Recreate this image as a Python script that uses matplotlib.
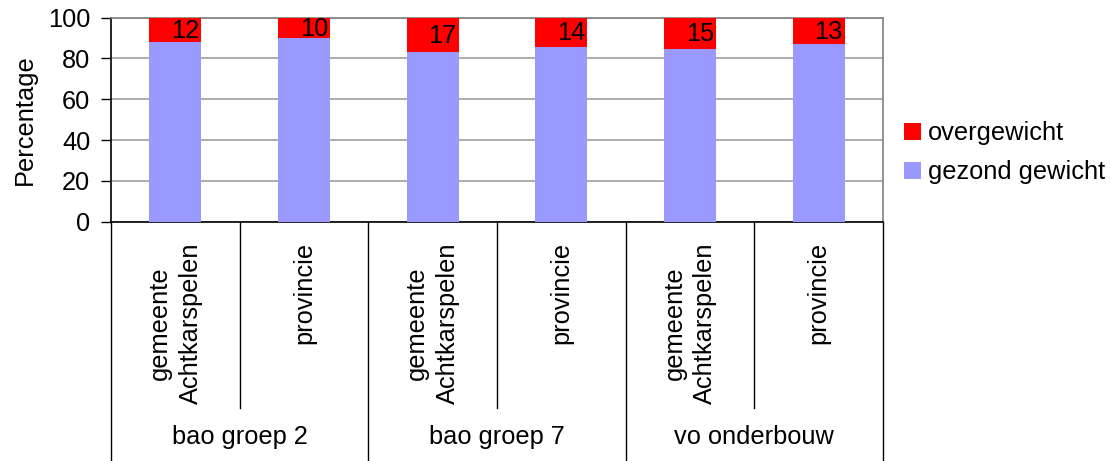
import matplotlib
matplotlib.use("Agg")
import matplotlib.pyplot as plt
from matplotlib.patches import Patch
import matplotlib.transforms as mtransforms

plt.rcParams['font.family'] = ['Liberation Sans', 'DejaVu Sans']

categories = ["gemeente\nAchtkarspelen", "provincie",
              "gemeente\nAchtkarspelen", "provincie",
              "gemeente\nAchtkarspelen", "provincie"]
groups = ["bao groep 2", "bao groep 7", "vo onderbouw"]
gezond = [88, 90, 83, 85.6, 84.6, 87]
overgewicht = [12, 10, 17, 14.4, 15.4, 13]
yticks = [0, 20, 40, 60, 80, 100]

FS = 18.3
W, H = 1111, 461
fig = plt.figure(figsize=(W / 100, H / 100), dpi=100)
L, R, T, B = 111, 883, 17.7, 221.7
ax = fig.add_axes([L / W, (H - B) / H, (R - L) / W, (B - T) / H])

blue = "#9999FF"
red = "#FF0000"
xc = [i + 0.5 for i in range(len(categories))]
bw = 0.404
ax.bar(xc, gezond, width=bw, color=blue, zorder=3)
ax.bar(xc, overgewicht, width=bw, bottom=gezond, color=red, zorder=3)

for xi, g, o in zip(xc, gezond, overgewicht):
    ax.text(xi + bw / 2 - 0.015, g + o / 2 - 0.5, f"{o:.0f}", ha='right', va='center',
            fontsize=FS, color='black', zorder=4)

ax.set_xlim(0, len(categories))
ax.set_ylim(0, 100)
ax.set_yticks(yticks)
ax.set_yticklabels([str(v) for v in yticks], fontsize=FS)
ax.tick_params(axis='y', direction='out', length=7, width=1, pad=8, colors='black')
ax.set_xticks([])
ax.grid(axis='y', color='#A0A0A0', linewidth=1.2, zorder=0)
ax.set_ylabel("Percentage", fontsize=FS, labelpad=8)

for s in ['top', 'right']:
    ax.spines[s].set_color('#808080')
    ax.spines[s].set_linewidth(1.2)
for s in ['left', 'bottom']:
    ax.spines[s].set_color('black')
    ax.spines[s].set_linewidth(1.2)

trans = mtransforms.blended_transform_factory(ax.transData, fig.transFigure)
ybot_axis = (H - B) / H
for i in range(1, len(categories)):
    y0 = (H - 408) / H if i % 2 == 1 else 0.0
    ax.plot([i, i], [y0, ybot_axis], color='black', lw=1, transform=trans, clip_on=False)
for i in [0, len(categories)]:
    ax.plot([i, i], [0, ybot_axis], color='black', lw=1, transform=trans, clip_on=False)

for xi, c in zip(xc, categories):
    ax.text(xi, (H - 242) / H, c, rotation=90, ha='center', va='top',
            multialignment='center', fontsize=FS, transform=trans, linespacing=1.35)
for gi, gname in enumerate(groups):
    ax.text(2 * gi + 1, (H - 437) / H, gname, ha='center', va='center',
            fontsize=FS, transform=trans)

handles = [Patch(facecolor=red, edgecolor='none'), Patch(facecolor=blue, edgecolor='none')]
fig.legend(handles, ["overgewicht", "gezond gewicht"], loc='upper left',
           bbox_to_anchor=(904 / W, (H - 121) / H), frameon=False, fontsize=FS,
           handlelength=0.65, handleheight=0.65, handletextpad=0.3, labelspacing=0.6,
           borderpad=0, borderaxespad=0)

fig.savefig("out.png", dpi=100)
